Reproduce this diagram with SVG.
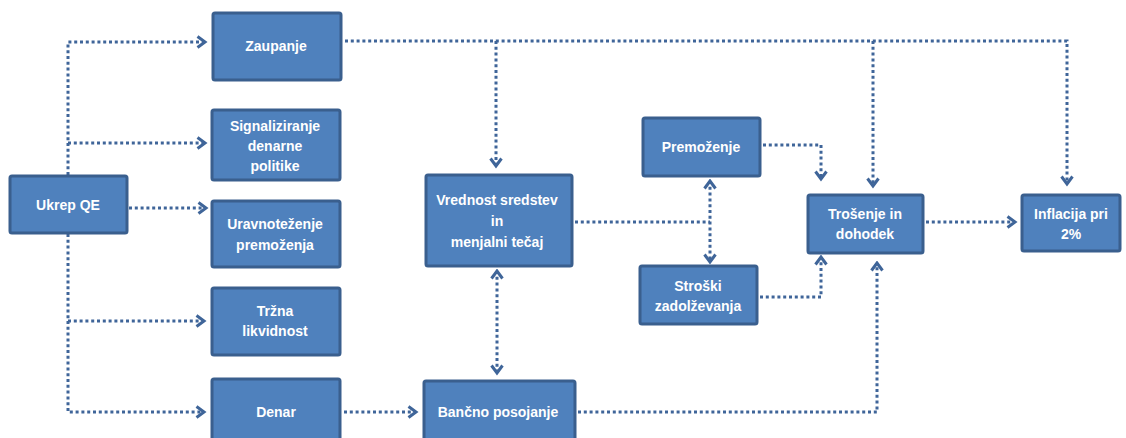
<svg xmlns="http://www.w3.org/2000/svg" width="1126" height="438" viewBox="0 0 1126 438">
<style>
.box{fill:#4F81BD;stroke:#3A5F8E;stroke-width:3}
.lbl{font-family:"Liberation Sans",Arial,sans-serif;font-weight:bold;font-size:14px;fill:#FFFFFF;text-anchor:middle}
.con{fill:none;stroke:#3F6599;stroke-width:3;stroke-dasharray:3 2.8}
</style>
<defs>
<marker id="arr" viewBox="0 0 12 14" refX="9.5" refY="7" markerWidth="12" markerHeight="14" markerUnits="userSpaceOnUse" orient="auto-start-reverse">
<path d="M2,1.5 L9.5,7 L2,12.5" fill="none" stroke="#3F6599" stroke-width="3"/>
</marker>
</defs>
<rect width="1126" height="438" fill="#FFFFFF"/>
<g id="connectors">
<path class="con" d="M68,175 V42 H205" marker-end="url(#arr)"/>
<path class="con" d="M68,143 H205" marker-end="url(#arr)"/>
<path class="con" d="M129,208 H206" marker-end="url(#arr)"/>
<path class="con" d="M68,234 V412 H204" marker-end="url(#arr)"/>
<path class="con" d="M68,321 H204" marker-end="url(#arr)"/>
<path class="con" d="M345,41 H1067 V184" marker-end="url(#arr)"/>
<path class="con" d="M496,41 V166" marker-end="url(#arr)"/>
<path class="con" d="M873,41 V186" marker-end="url(#arr)"/>
<path class="con" d="M763,145 H821 V179" marker-end="url(#arr)"/>
<path class="con" d="M575,222 H710"/>
<path class="con" d="M710,181 V262" marker-start="url(#arr)" marker-end="url(#arr)"/>
<path class="con" d="M497,271 V373" marker-start="url(#arr)" marker-end="url(#arr)"/>
<path class="con" d="M344,412 H416" marker-end="url(#arr)"/>
<path class="con" d="M760,297 H821 V257" marker-end="url(#arr)"/>
<path class="con" d="M578,412 H877 V263" marker-end="url(#arr)"/>
<path class="con" d="M926,222 H1015" marker-end="url(#arr)"/>
</g>
<g id="ukrep"><rect class="box" x="10" y="176" width="117" height="57" rx="2"/><text class="lbl" x="68" y="210">Ukrep QE</text></g>
<g id="zaupanje"><rect class="box" x="213" y="13" width="128" height="67" rx="2"/><text class="lbl" x="276" y="51">Zaupanje</text></g>
<g id="signaliziranje"><rect class="box" x="212" y="110" width="128" height="70" rx="2"/><text class="lbl" x="275" y="131">Signaliziranje</text><text class="lbl" x="275" y="151">denarne</text><text class="lbl" x="275" y="171">politike</text></g>
<g id="uravnotezenje"><rect class="box" x="212" y="201" width="128" height="66" rx="2"/><text class="lbl" x="275" y="229">Uravnoteženje</text><text class="lbl" x="275" y="250">premoženja</text></g>
<g id="trzna"><rect class="box" x="212" y="288" width="128" height="67" rx="2"/><text class="lbl" x="275" y="316">Tržna</text><text class="lbl" x="275" y="336">likvidnost</text></g>
<g id="denar"><rect class="box" x="212" y="379" width="128" height="66" rx="2"/><text class="lbl" x="276" y="417">Denar</text></g>
<g id="vrednost"><rect class="box" x="426" y="175" width="146" height="91" rx="2"/><text class="lbl" x="497" y="205">Vrednost sredstev</text><text class="lbl" x="497" y="226">in</text><text class="lbl" x="497" y="247">menjalni tečaj</text></g>
<g id="bancno"><rect class="box" x="424" y="381" width="151" height="64" rx="2"/><text class="lbl" x="498" y="417">Bančno posojanje</text></g>
<g id="premozenje"><rect class="box" x="643" y="118" width="117" height="58" rx="2"/><text class="lbl" x="701" y="152">Premoženje</text></g>
<g id="stroski"><rect class="box" x="640" y="266" width="117" height="58" rx="2"/><text class="lbl" x="698" y="291">Stroški</text><text class="lbl" x="698" y="311">zadolževanja</text></g>
<g id="trosenje"><rect class="box" x="808" y="195" width="115" height="58" rx="2"/><text class="lbl" x="865" y="219">Trošenje in</text><text class="lbl" x="865" y="239">dohodek</text></g>
<g id="inflacija"><rect class="box" x="1022" y="195" width="98" height="56" rx="2"/><text class="lbl" x="1071" y="219">Inflacija pri</text><text class="lbl" x="1071" y="239">2%</text></g>
</svg>
